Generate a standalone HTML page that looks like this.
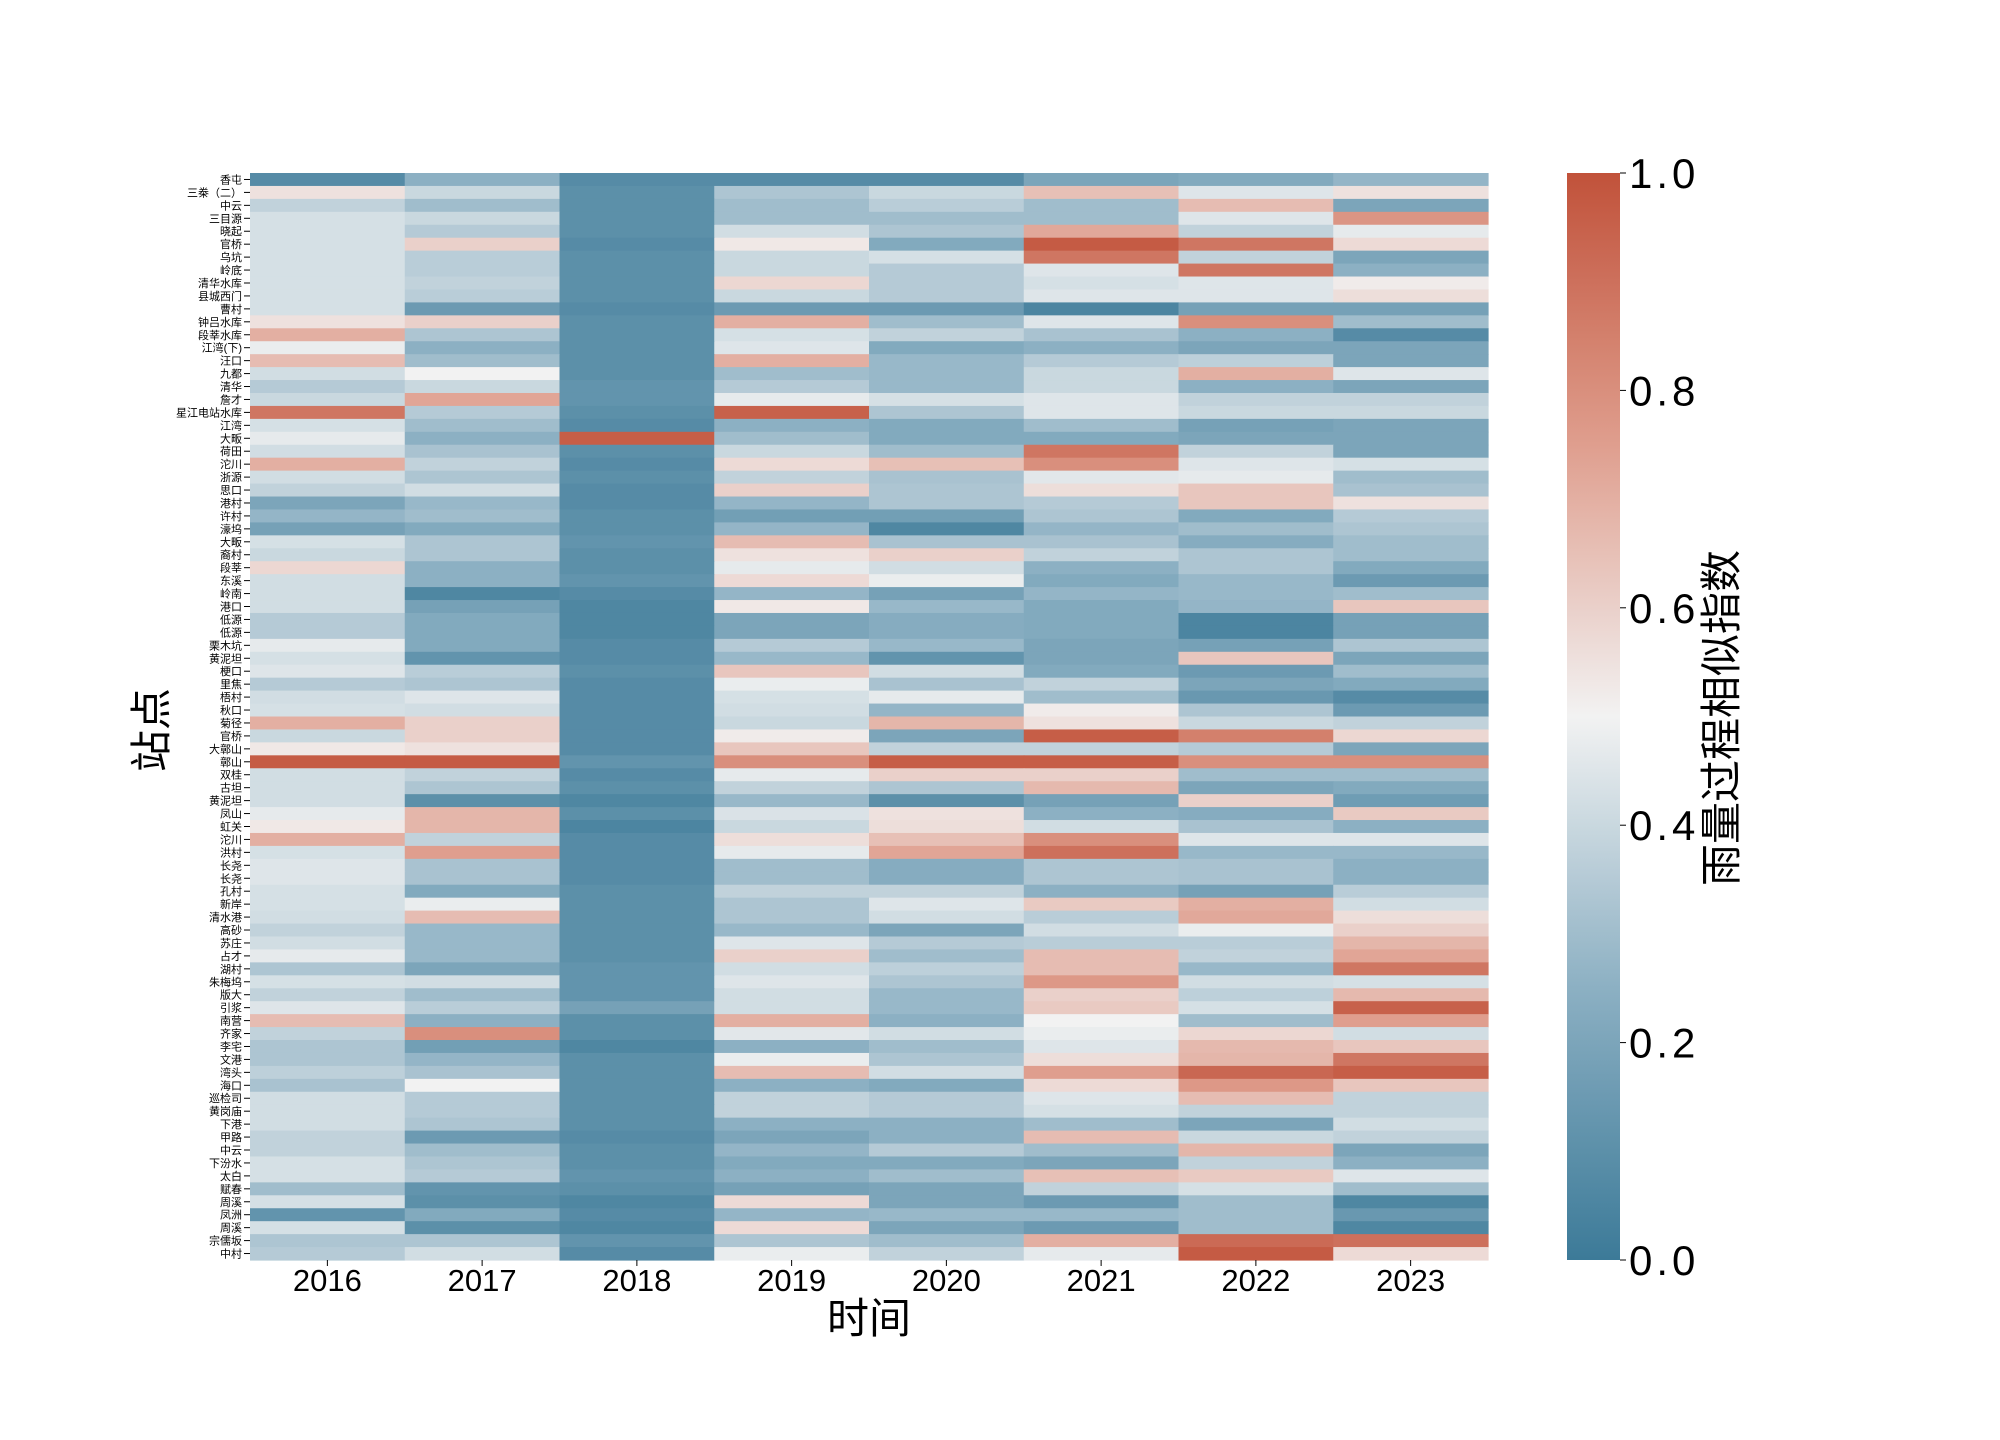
<!DOCTYPE html>
<html><head><meta charset="utf-8">
<style>
html,body{margin:0;padding:0;background:#fff;}
svg{display:block;}
text{font-family:"Liberation Sans","Noto Sans CJK SC",sans-serif;}
</style></head>
<body>
<svg id="chart" width="2000" height="1440" viewBox="0 0 2000 1440"></svg>
<script>
const years = ["2016","2017","2018","2019","2020","2021","2022","2023"];
const stations = ["香屯","三桊（二）","中云","三目源","晓起","官桥","乌坑","岭底","清华水库","县城西门","曹村","钟吕水库","段莘水库","江湾(下)","汪口","九都","清华","詹才","星江电站水库","江湾","大畈","荷田","沱川","浙源","思口","港村","许村","濠坞","大畈","裔村","段莘","东溪","岭南","港口","低源","低源","栗木坑","黄泥坦","梗口","里焦","梧村","秋口","菊径","官桥","大鄣山","鄣山","双桂","古坦","黄泥坦","凤山","虹关","沱川","洪村","长尧","长尧","孔村","新岸","清水港","高砂","苏庄","占才","湖村","朱梅坞","版大","引浆","南营","齐家","李宅","文港","湾头","海口","巡检司","黄岗庙","下港","甲路","中云","下汾水","太白","赋春","周溪","凤洲","周溪","宗儒坂","中村"];
const values = [
[0.08,0.25,0.08,0.08,0.08,0.2,0.22,0.27],
[0.55,0.4,0.1,0.33,0.4,0.65,0.45,0.55],
[0.38,0.3,0.1,0.3,0.36,0.3,0.66,0.2],
[0.43,0.4,0.1,0.3,0.3,0.3,0.45,0.78],
[0.43,0.35,0.1,0.42,0.33,0.72,0.38,0.47],
[0.43,0.6,0.08,0.53,0.22,0.97,0.88,0.57],
[0.43,0.36,0.1,0.4,0.43,0.88,0.38,0.2],
[0.43,0.36,0.1,0.4,0.35,0.45,0.88,0.25],
[0.43,0.38,0.1,0.58,0.35,0.43,0.45,0.52],
[0.43,0.36,0.1,0.4,0.35,0.45,0.45,0.56],
[0.43,0.15,0.08,0.15,0.15,0.05,0.18,0.18],
[0.55,0.6,0.1,0.7,0.3,0.45,0.8,0.3],
[0.7,0.33,0.1,0.43,0.38,0.32,0.25,0.08],
[0.48,0.25,0.1,0.45,0.22,0.25,0.2,0.2],
[0.66,0.3,0.1,0.7,0.28,0.35,0.37,0.2],
[0.42,0.5,0.1,0.3,0.28,0.4,0.7,0.45],
[0.35,0.4,0.12,0.35,0.28,0.4,0.25,0.2],
[0.4,0.73,0.12,0.47,0.43,0.45,0.38,0.38],
[0.88,0.35,0.1,0.95,0.33,0.45,0.4,0.4],
[0.43,0.3,0.08,0.25,0.22,0.3,0.18,0.2],
[0.47,0.25,0.96,0.3,0.22,0.22,0.2,0.2],
[0.42,0.32,0.1,0.4,0.3,0.88,0.38,0.2],
[0.7,0.38,0.08,0.57,0.65,0.8,0.45,0.43],
[0.42,0.33,0.1,0.38,0.32,0.46,0.47,0.3],
[0.38,0.42,0.08,0.6,0.33,0.56,0.63,0.32],
[0.2,0.28,0.08,0.27,0.33,0.35,0.63,0.55],
[0.27,0.3,0.1,0.17,0.17,0.33,0.22,0.35],
[0.18,0.22,0.1,0.27,0.06,0.27,0.3,0.33],
[0.43,0.33,0.12,0.66,0.32,0.32,0.23,0.3],
[0.4,0.33,0.1,0.55,0.6,0.38,0.33,0.3],
[0.58,0.25,0.1,0.47,0.42,0.25,0.33,0.22],
[0.42,0.25,0.12,0.57,0.48,0.22,0.28,0.15],
[0.42,0.06,0.08,0.27,0.18,0.27,0.28,0.3],
[0.42,0.18,0.06,0.53,0.28,0.22,0.27,0.63],
[0.35,0.22,0.06,0.2,0.23,0.22,0.05,0.18],
[0.35,0.22,0.06,0.2,0.23,0.22,0.05,0.18],
[0.47,0.22,0.08,0.35,0.28,0.2,0.18,0.33],
[0.43,0.12,0.08,0.28,0.12,0.2,0.63,0.2],
[0.45,0.36,0.1,0.63,0.42,0.22,0.15,0.3],
[0.35,0.33,0.08,0.48,0.32,0.38,0.2,0.22],
[0.42,0.45,0.08,0.43,0.47,0.3,0.14,0.08],
[0.43,0.42,0.08,0.42,0.27,0.52,0.33,0.15],
[0.7,0.6,0.08,0.4,0.68,0.55,0.4,0.38],
[0.4,0.6,0.08,0.52,0.2,0.96,0.85,0.58],
[0.53,0.55,0.08,0.63,0.38,0.38,0.35,0.2],
[0.97,0.97,0.12,0.8,0.96,0.96,0.8,0.8],
[0.42,0.38,0.08,0.47,0.6,0.6,0.3,0.3],
[0.42,0.33,0.1,0.38,0.33,0.67,0.2,0.22],
[0.42,0.1,0.06,0.28,0.1,0.18,0.6,0.16],
[0.47,0.68,0.1,0.44,0.55,0.25,0.23,0.62],
[0.53,0.68,0.05,0.4,0.56,0.42,0.32,0.25],
[0.7,0.38,0.08,0.56,0.65,0.8,0.45,0.45],
[0.43,0.75,0.08,0.47,0.73,0.9,0.28,0.28],
[0.45,0.32,0.08,0.3,0.23,0.33,0.32,0.25],
[0.45,0.32,0.08,0.3,0.23,0.33,0.32,0.25],
[0.43,0.22,0.1,0.38,0.38,0.25,0.18,0.36],
[0.43,0.48,0.1,0.33,0.45,0.62,0.7,0.42],
[0.42,0.66,0.1,0.33,0.42,0.36,0.72,0.56],
[0.38,0.28,0.1,0.28,0.2,0.42,0.48,0.6],
[0.42,0.28,0.1,0.45,0.35,0.36,0.36,0.68],
[0.47,0.28,0.1,0.6,0.3,0.66,0.38,0.73],
[0.33,0.2,0.12,0.42,0.37,0.66,0.28,0.88],
[0.43,0.42,0.12,0.45,0.33,0.77,0.42,0.43],
[0.38,0.3,0.12,0.42,0.28,0.6,0.37,0.67],
[0.45,0.36,0.18,0.42,0.28,0.62,0.43,0.95],
[0.66,0.25,0.1,0.7,0.25,0.5,0.3,0.75],
[0.38,0.8,0.1,0.46,0.42,0.48,0.58,0.42],
[0.33,0.17,0.06,0.25,0.3,0.45,0.67,0.63],
[0.33,0.27,0.1,0.48,0.33,0.56,0.68,0.88],
[0.37,0.32,0.1,0.66,0.42,0.75,0.93,0.96],
[0.32,0.5,0.1,0.25,0.22,0.57,0.77,0.63],
[0.42,0.35,0.1,0.38,0.35,0.45,0.66,0.38],
[0.42,0.35,0.1,0.38,0.35,0.43,0.38,0.38],
[0.42,0.33,0.1,0.25,0.25,0.3,0.2,0.42],
[0.38,0.15,0.08,0.2,0.25,0.66,0.4,0.38],
[0.38,0.3,0.1,0.27,0.35,0.3,0.68,0.2],
[0.43,0.33,0.1,0.22,0.22,0.2,0.38,0.25],
[0.43,0.35,0.12,0.25,0.3,0.65,0.62,0.45],
[0.3,0.12,0.1,0.18,0.2,0.38,0.43,0.3],
[0.43,0.1,0.06,0.57,0.2,0.15,0.3,0.06],
[0.12,0.22,0.08,0.27,0.28,0.28,0.3,0.14],
[0.43,0.1,0.06,0.57,0.2,0.15,0.3,0.06],
[0.33,0.33,0.12,0.33,0.3,0.7,0.92,0.9],
[0.35,0.42,0.08,0.48,0.38,0.47,0.97,0.57]
];
const cbTicks = [0, 0.2, 0.4, 0.6, 0.8, 1.0];
const cbTickLabels = ["0.0","0.2","0.4","0.6","0.8","1.0"];

const NS = "http://www.w3.org/2000/svg";
const svg = document.getElementById('chart');
const PL = 250, PR = 1488, PT = 173, PB = 1260;
const CBL = 1567, CBR = 1620;
const xScale = i => PL + i * (PR - PL) / years.length;
const cw = (PR - PL) / years.length;
const yScale = j => PT + j * (PB - PT) / stations.length;
const rh = (PB - PT) / stations.length;
const vScale = v => PB - v * (PB - PT);
const stops = [[0,[60,122,152]],[0.25,[140,176,195]],[0.5,[242,242,242]],[0.75,[223,158,142]],[1,[193,82,58]]];
function cmap(v){
  v = Math.max(0, Math.min(1, v));
  for (let k = 0; k < stops.length - 1; k++) {
    const a = stops[k], b = stops[k+1];
    if (v <= b[0]) {
      const t = (v - a[0]) / (b[0] - a[0]);
      const c = a[1].map((x, i) => Math.round(x + (b[1][i] - x) * t));
      return `rgb(${c[0]},${c[1]},${c[2]})`;
    }
  }
  return 'rgb(193,82,58)';
}
function mk(tag, attrs, parent){
  const e = document.createElementNS(NS, tag);
  for (const k in attrs) e.setAttribute(k, attrs[k]);
  (parent || svg).appendChild(e);
  return e;
}
const cells = mk('g', {});


values.forEach((row, j) => {
  row.forEach((v, i) => {
    const r = mk('rect', {x: xScale(i), y: yScale(j), width: cw + 0.6, height: rh + 0.6, fill: cmap(v)}, cells);
    
    
  });
});
const yt = mk('g', {});


stations.forEach((s, j) => {
  const cy = yScale(j) + rh / 2;
  const l = mk('line', {x1: PL - 6, x2: PL, y1: cy, y2: cy, stroke: '#000', 'stroke-width': 1}, yt);
  
  
  const t = mk('text', {x: PL - 8, y: cy + 4, 'font-size': 11, 'text-anchor': 'end', fill: '#000'}, yt);
  t.textContent = s;
  
  
});
const xt = mk('g', {});


years.forEach((y, i) => {
  const cx = xScale(i) + cw / 2;
  const l = mk('line', {x1: cx, x2: cx, y1: PB, y2: PB + 6, stroke: '#000', 'stroke-width': 1}, xt);
  
  
  const t = mk('text', {x: cx, y: PB + 31, 'font-size': 31, 'text-anchor': 'middle', fill: '#000'}, xt);
  t.textContent = y;
  
  
});
const xtitle = mk('text', {x: 869, y: 1333, 'font-size': 42, 'text-anchor': 'middle', fill: '#000'});
xtitle.textContent = '时间';


const ytitle = mk('text', {x: 0, y: 0, 'font-size': 42, 'text-anchor': 'middle', fill: '#000', transform: 'translate(166,730) rotate(-90)'});
ytitle.textContent = '站点';


const defs = mk('defs', {});
const grad = mk('linearGradient', {id: 'cbg', x1: 0, y1: 1, x2: 0, y2: 0}, defs);
for (let k = 0; k <= 20; k++) {
  mk('stop', {offset: (k / 20), 'stop-color': cmap(k / 20)}, grad);
}
const cb = mk('rect', {x: CBL, y: PT, width: CBR - CBL, height: PB - PT, fill: 'url(#cbg)'});


cbTicks.forEach((v, k) => {
  const y = vScale(v);
  const l = mk('line', {x1: CBR, x2: CBR + 6, y1: y, y2: y, stroke: '#000', 'stroke-width': 1});
  
  
  const t = mk('text', {x: CBR + 9, y: y + 15, 'font-size': 42, fill: '#000', 'letter-spacing': 4});
  t.textContent = cbTickLabels[k];
  
  
});
const cbt = mk('text', {x: 0, y: 0, 'font-size': 42, 'text-anchor': 'middle', fill: '#000', transform: 'translate(1736,718) rotate(-90)'});
cbt.textContent = '雨量过程相似指数';


</script>
</body></html>
